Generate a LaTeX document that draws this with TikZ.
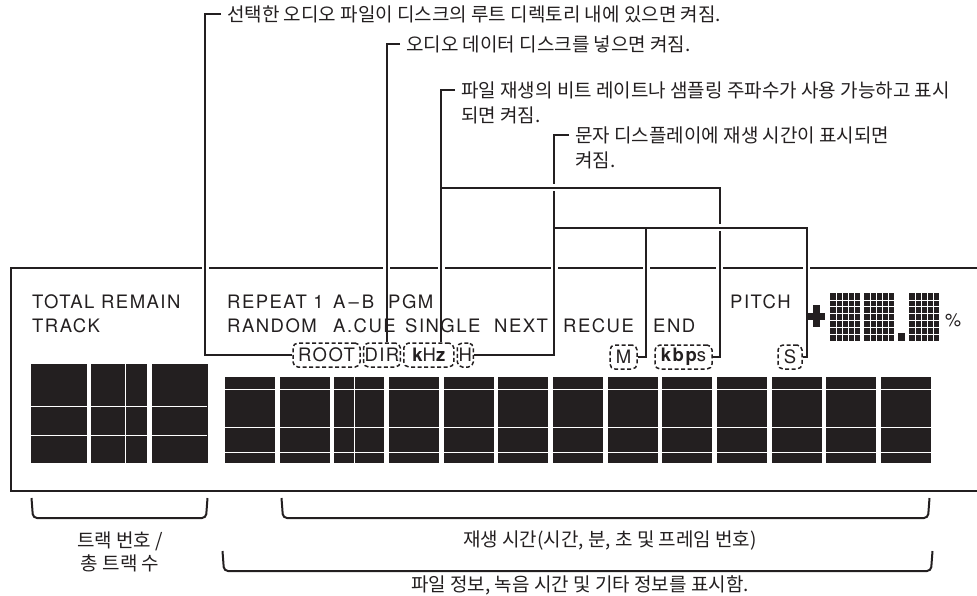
\documentclass[tikz,border=0pt]{standalone}
\usepackage{fontspec}
\usetikzlibrary{positioning}
\newfontfamily\lcdfont[LetterSpace=8]{TeX Gyre Heros}
\newfontfamily\kofont{Noto Sans CJK KR}
\definecolor{ink}{RGB}{35,31,32}
\newcommand{\tk}{10.5pt}

\begin{document}
\begin{tikzpicture}[
  x=1pt, y=-1pt,
  lcd/.style={anchor=base west, inner sep=0pt, text=ink, font=\lcdfont\fontsize{18.5}{20}\selectfont},
  ind/.style={draw=ink, dash pattern=on 4pt off 2.5pt, rounded corners=5pt, line width=1.5pt, minimum height=24pt, inner xsep=1pt, inner ysep=0pt, text=ink, font=\lcdfont\fontsize{18.5}{20}\selectfont},
  note/.style={anchor=north west, align=left, inner xsep=6pt, inner ysep=2pt, text=ink, font=\kofont\fontsize{19}{25}\selectfont},
  captext/.style={align=center, text=ink, font=\kofont\fontsize{19}{23}\selectfont},
  link/.style={draw=ink, line width=2pt, preaction={draw=white, line width=7pt, shorten <=3pt, shorten >=3pt}},
  brace/.style={draw=ink, line width=2pt, rounded corners=4pt},
  seg/.style={draw=white, line width=1pt}
]
\useasboundingbox (0,0) rectangle (977,596);

% Display frame, open to the right
\draw[ink, line width=2.5pt] (990,268) -| (11,491) -- (990,491);

% Indicators
\node[ind, minimum width=67pt] (root) at (326.5,355) {ROOT};
\node[ind, minimum width=36pt, right=2pt of root] (dir) {DIR};
\node[ind, minimum width=50pt, right=2pt of dir] (khz) {{\bfseries k}H{\bfseries z}};
\node[ind, minimum width=16pt, right=2pt of khz] (hr) {H};
\node[ind, minimum width=27pt] (mn) at (623.5,357) {M};
\node[ind, minimum width=57pt] (kbps) at (683.5,357) {{\bfseries kbp}s};
\node[ind, minimum width=24pt] (sec) at (790,357) {S};

% Notes
\node[note] (rootlbl) at (221,4) {선택한 오디오 파일이 디스크의 루트 디렉토리 내에 있으면 켜짐.};
\node[note] (dirlbl) at (400,34) {오디오 데이터 디스크를 넣으면 켜짐.};
\node[note] (ratelbl) at (455,80) {파일 재생의 비트 레이트나 샘플링 주파수가 사용 가능하고 표시\\되면 켜짐.};
\node[note] (timelbl) at (569,125) {문자 디스플레이에 재생 시간이 표시되면\\켜짐.};

% Connectors
\coordinate (ratefork) at (441,188);
\coordinate (timefork) at (554,228);
\coordinate (mfork) at (646,228);
\draw[link] ([yshift=-\tk]rootlbl.north west) -- ++(-16,0) |- (root.west);
\draw[link] ([yshift=-\tk]dirlbl.north west) -| ([xshift=5pt]dir.north);
\draw[link] ([yshift=-\tk]timelbl.north west) -- ++(-15,0) |- (hr.east);
\draw[link] ([yshift=-\tk]ratelbl.north west) -| (ratefork) -- (ratefork |- khz.north);
\draw[link] (ratefork) -| ([xshift=7pt]kbps.east) -- (kbps.east);
\draw[link] (timefork) -| ([xshift=4pt]sec.east) -- (sec.east);
\draw[link] (mfork) |- (mn.east);

% Segment labels
\foreach \x/\y/\w [count=\i] in {32/308/TOTAL REMAIN, 32/332/TRACK,
    227/308/REPEAT 1, 333/308/A\,–\,B, 388/308/PGM, 730/308/PITCH,
    227/332/RANDOM, 333/332/A.CUE, 405/332/SINGLE, 494/332/NEXT,
    563/332/RECUE, 653/332/END}
  \node[lcd] (word\i) at (\x,\y) {\w};

% Track digits
\foreach \x in {31,91,152} \fill[ink] (\x,364) rectangle ++(55.5,99);
\foreach \y in {406,435} \draw[seg] (31,\y) -- (207,\y);
\draw[seg] (125,364) -- (125,463);

% Time digits
\foreach \i in {0,...,12} \fill[ink] ({225+54.67*\i},377) rectangle ++(50,86);
\foreach \y in {389,427,452} \draw[seg] (225,\y) -- (931,\y);
\draw[seg] (354,377) -- (354,463);

% Pitch
\fill[ink] (808,313) rectangle (825,320);
\fill[ink] (813,305) rectangle (820,327);
\foreach \x in {830,864,909} {
  \fill[ink] (\x,293) rectangle ++(30,48);
  \foreach \k in {1,...,4} \draw[white, line width=0.6pt] (\x+6*\k,293) -- ++(0,48);
  \foreach \k in {1,...,6} \draw[white, line width=0.6pt] (\x,293+6.857*\k) -- ++(30,0);
}
\fill[ink] (898,333) rectangle (905,341);
\node[lcd, anchor=center, font=\lcdfont\fontsize{18}{20}\selectfont] (pct) at (953,320) {\%};

% Brackets
\draw[brace] (31.5,498) -- (33,518) -- (206,518) -- (207.5,498);
\draw[brace] (281.5,498) -- (283,518) -- (928,518) -- (929.5,498);
\draw[brace] (222.5,551) -- (224,571) -- (931,571) -- (932.5,551);
\node[captext] (trackcap) at (120,551.5) {트랙 번호 /\\총 트랙 수};
\node[captext] (timecap) at (610,541) {재생 시간(시간, 분, 초 및 프레임 번호)};
\node[captext] (infocap) at (580,585) {파일 정보, 녹음 시간 및 기타 정보를 표시함.};

\end{tikzpicture}
\end{document}
